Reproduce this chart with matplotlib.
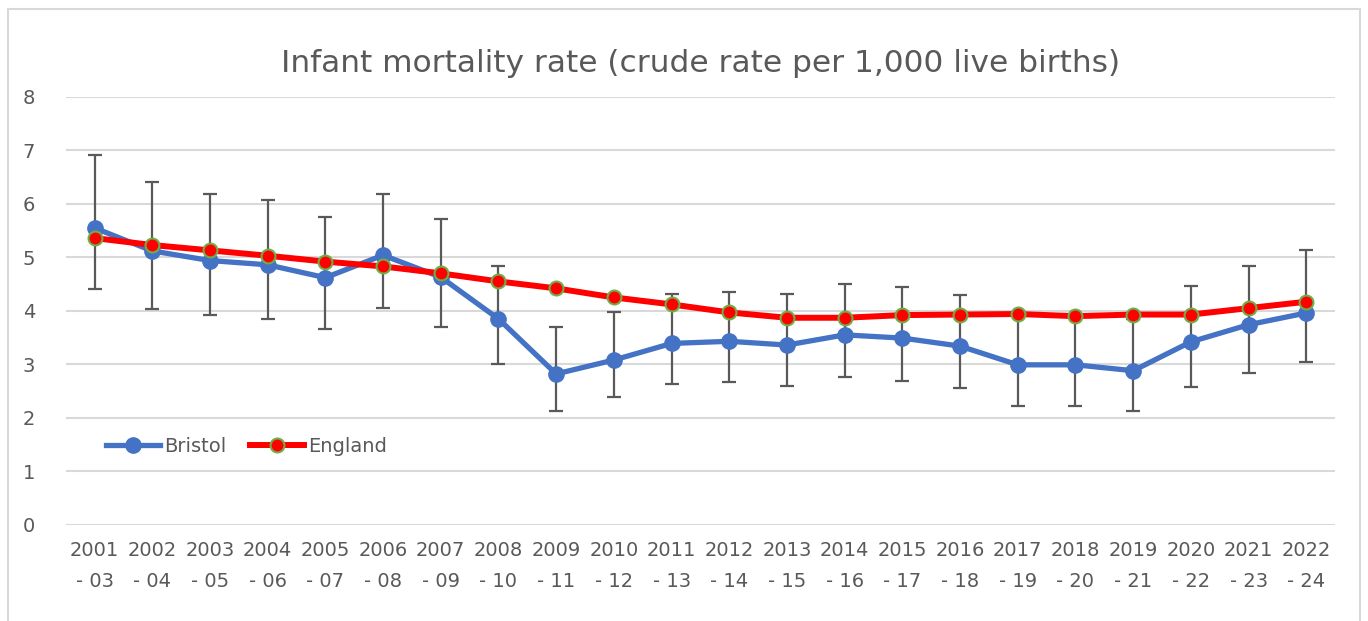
import matplotlib.pyplot as plt
import matplotlib.patches as patches
import numpy as np

plt.rcParams['font.family'] = ['DejaVu Sans']

periods = ['2001\n- 03', '2002\n- 04', '2003\n- 05', '2004\n- 06', '2005\n- 07', '2006\n- 08',
           '2007\n- 09', '2008\n- 10', '2009\n- 11', '2010\n- 12', '2011\n- 13', '2012\n- 14',
           '2013\n- 15', '2014\n- 16', '2015\n- 17', '2016\n- 18', '2017\n- 19', '2018\n- 20',
           '2019\n- 21', '2020\n- 22', '2021\n- 23', '2022\n- 24']

bristol = [5.55, 5.12, 4.94, 4.86, 4.62, 5.04, 4.63, 3.85, 2.82, 3.08, 3.39, 3.43,
           3.36, 3.55, 3.49, 3.34, 2.99, 2.99, 2.88, 3.42, 3.74, 3.96]
bristol_upper = [6.92, 6.41, 6.18, 6.07, 5.76, 6.18, 5.71, 4.83, 3.69, 3.98, 4.31, 4.35,
                 4.31, 4.50, 4.45, 4.30, 3.92, 3.90, 3.84, 4.47, 4.83, 5.14]
bristol_lower = [4.41, 4.04, 3.93, 3.84, 3.66, 4.05, 3.69, 3.01, 2.12, 2.38, 2.63, 2.66,
                 2.60, 2.76, 2.69, 2.55, 2.22, 2.22, 2.13, 2.57, 2.84, 3.04]
england = [5.36, 5.23, 5.13, 5.03, 4.92, 4.83, 4.70, 4.55, 4.42, 4.25, 4.12, 3.97,
           3.87, 3.87, 3.92, 3.93, 3.94, 3.90, 3.93, 3.93, 4.05, 4.17]

text_col = '#595959'

fig = plt.figure(figsize=(13.68, 6.21), dpi=100)
ax = fig.add_axes([0.048, 0.155, 0.928, 0.689])

x = np.arange(len(periods))
b = np.array(bristol)
yerr = [b - np.array(bristol_lower), np.array(bristol_upper) - b]

ax.errorbar(x, b, yerr=yerr, fmt='none', ecolor='#595959', elinewidth=1.6,
            capsize=5, capthick=1.6, zorder=2)
ax.plot(x, bristol, color='#4472C4', lw=3.8, marker='o', ms=11, label='Bristol', zorder=3)
ax.plot(x, england, color='#FF0000', lw=4.3, marker='o', ms=10, mfc='#FF0000',
        mec='#70AD47', mew=1.5, label='England', zorder=4)

ax.set_xlim(-0.5, len(periods) - 0.5)
ax.set_ylim(0, 8)
ax.set_yticks(range(0, 9))
ax.set_xticks(x)
ax.set_xticklabels(periods, linespacing=1.75)
ax.grid(axis='y', color='#D9D9D9', lw=1.5)
ax.set_axisbelow(True)
for s in ax.spines.values():
    s.set_visible(False)
ax.tick_params(length=0, colors=text_col, labelsize=14)
ax.tick_params(axis='y', pad=22)
ax.tick_params(axis='x', pad=12)

ax.set_title('Infant mortality rate (crude rate per 1,000 live births)', fontsize=22.5,
             color=text_col, pad=18)

leg = ax.legend(loc='lower left', bbox_to_anchor=(0.018, 0.12), ncol=2, frameon=False,
                fontsize=14, handlelength=2.8, columnspacing=1.2, handletextpad=0.2,
                labelcolor=text_col)

fig.patches.append(patches.Rectangle((0.006, -0.05), 0.988, 1.035, transform=fig.transFigure,
                                     fill=False, edgecolor='#D9D9D9', lw=1.5))

fig.savefig('out.png', dpi=100)
